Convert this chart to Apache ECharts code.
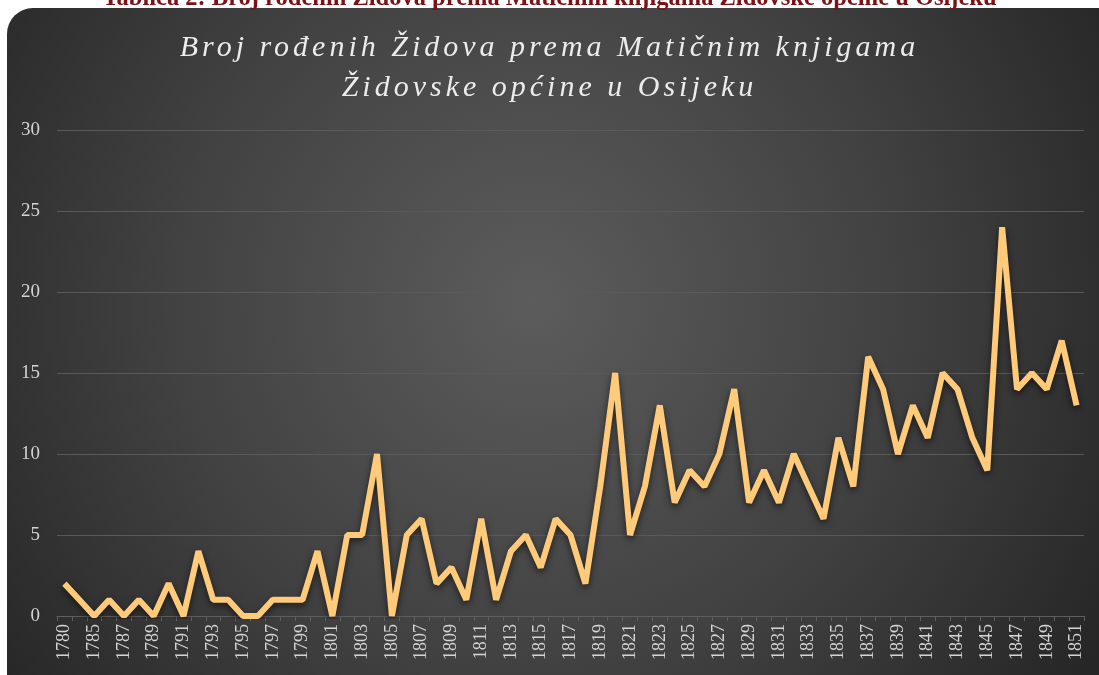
<!DOCTYPE html>
<html>
<head>
<meta charset="utf-8">
<script src="https://cdn.jsdelivr.net/npm/echarts@6/dist/echarts.min.js"></script>
<style>
html,body{margin:0;padding:0;background:#ffffff;}
#chart{width:1099px;height:675px;}
</style>
</head>
<body>
<div id="chart"></div>
<script>
const categories = ['1780','1784','1785','1786','1787','1788','1789','1790','1791','1792','1793','1794','1795','1796','1797','1798','1799','1800','1801','1802','1803','1804','1805','1806','1807','1808','1809','1810','1811','1812','1813','1814','1815','1816','1817','1818','1819','1820','1821','1822','1823','1824','1825','1826','1827','1828','1829','1830','1831','1832','1833','1834','1835','1836','1837','1838','1839','1840','1841','1842','1843','1844','1845','1846','1847','1848','1849','1850','1851'];
const births = [2,1,0,1,0,1,0,2,0,4,1,1,0,0,1,1,1,4,0,5,5,10,0,5,6,2,3,1,6,1,4,5,3,6,5,2,8,15,5,8,13,7,9,8,10,14,7,9,7,10,8,6,11,8,16,14,10,13,11,15,14,11,9,24,14,15,14,17,13];
const yTicks = [0,5,10,15,20,25,30];
const titleText = 'Broj rođenih Židova prema Matičnim knjigama\nŽidovske općine u Osijeku';
const captionText = 'Tablica 2: Broj rođenih Židova prema Matičnim knjigama Židovske općine u Osijeku';

// letter-spaced italic title (canvas letterSpacing)
(function(){
  const proto = CanvasRenderingContext2D.prototype;
  const orig = proto.fillText;
  proto.fillText = function(t, x, y, m){
    if (this.font && this.font.indexOf('italic') >= 0 && 'letterSpacing' in this) {
      const prev = this.letterSpacing;
      this.letterSpacing = '4px';
      const r = m === undefined ? orig.call(this, t, x, y) : orig.call(this, t, x, y, m);
      this.letterSpacing = prev;
      return r;
    }
    return m === undefined ? orig.call(this, t, x, y) : orig.call(this, t, x, y, m);
  };
})();

const chart = echarts.init(document.getElementById('chart'), null, {renderer:'canvas'});
chart.setOption({
  animation:false,
  backgroundColor:'#ffffff',
  graphic:[
    {type:'rect', z:-10, silent:true,
     shape:{x:7,y:8,width:1120,height:700,r:[26,26,0,0]},
     style:{fill:{type:'radial',x:0.47,y:0.42,r:0.95,
       colorStops:[{offset:0,color:'#5c5c5c'},{offset:0.55,color:'#414141'},{offset:1,color:'#262626'}]}}},
    {type:'text', z:5, silent:true, left:'center', top:-14,
     style:{text:captionText, fill:'#7a1216', font:'bold 24.5px "Liberation Serif"'}}
  ],
  title:{
    text:titleText,
    left:'center', top:23,
    textStyle:{color:'#ececec', fontFamily:'Liberation Serif', fontStyle:'italic', fontWeight:'normal', fontSize:30, lineHeight:40}
  },
  grid:{left:57,right:15,top:130,bottom:59,containLabel:false},
  xAxis:{
    type:'category', data:categories, boundaryGap:true,
    axisLine:{show:true,lineStyle:{color:'#5e5e5e',width:1}},
    axisTick:{show:true,alignWithLabel:false,interval:0,length:5,lineStyle:{color:'#5e5e5e'}},
    axisLabel:{interval:1,rotate:90,color:'#d4d4d4',fontFamily:'Liberation Serif',fontSize:18,margin:8}
  },
  yAxis:{
    type:'value', min:0, max:30, interval:5,
    axisLine:{show:false}, axisTick:{show:false},
    axisLabel:{color:'#d4d4d4',fontFamily:'Liberation Serif',fontSize:19,margin:17},
    splitLine:{lineStyle:{color:'#5a5a5a',width:1}}
  },
  series:[{
    type:'line', data:births, showSymbol:false, symbol:'none',
    lineStyle:{color:'#ffca7a',width:6,join:'bevel',shadowColor:'rgba(0,0,0,0.6)',shadowBlur:7,shadowOffsetY:3},
    itemStyle:{color:'#ffca7a'}
  }]
});
</script>
</body>
</html>
